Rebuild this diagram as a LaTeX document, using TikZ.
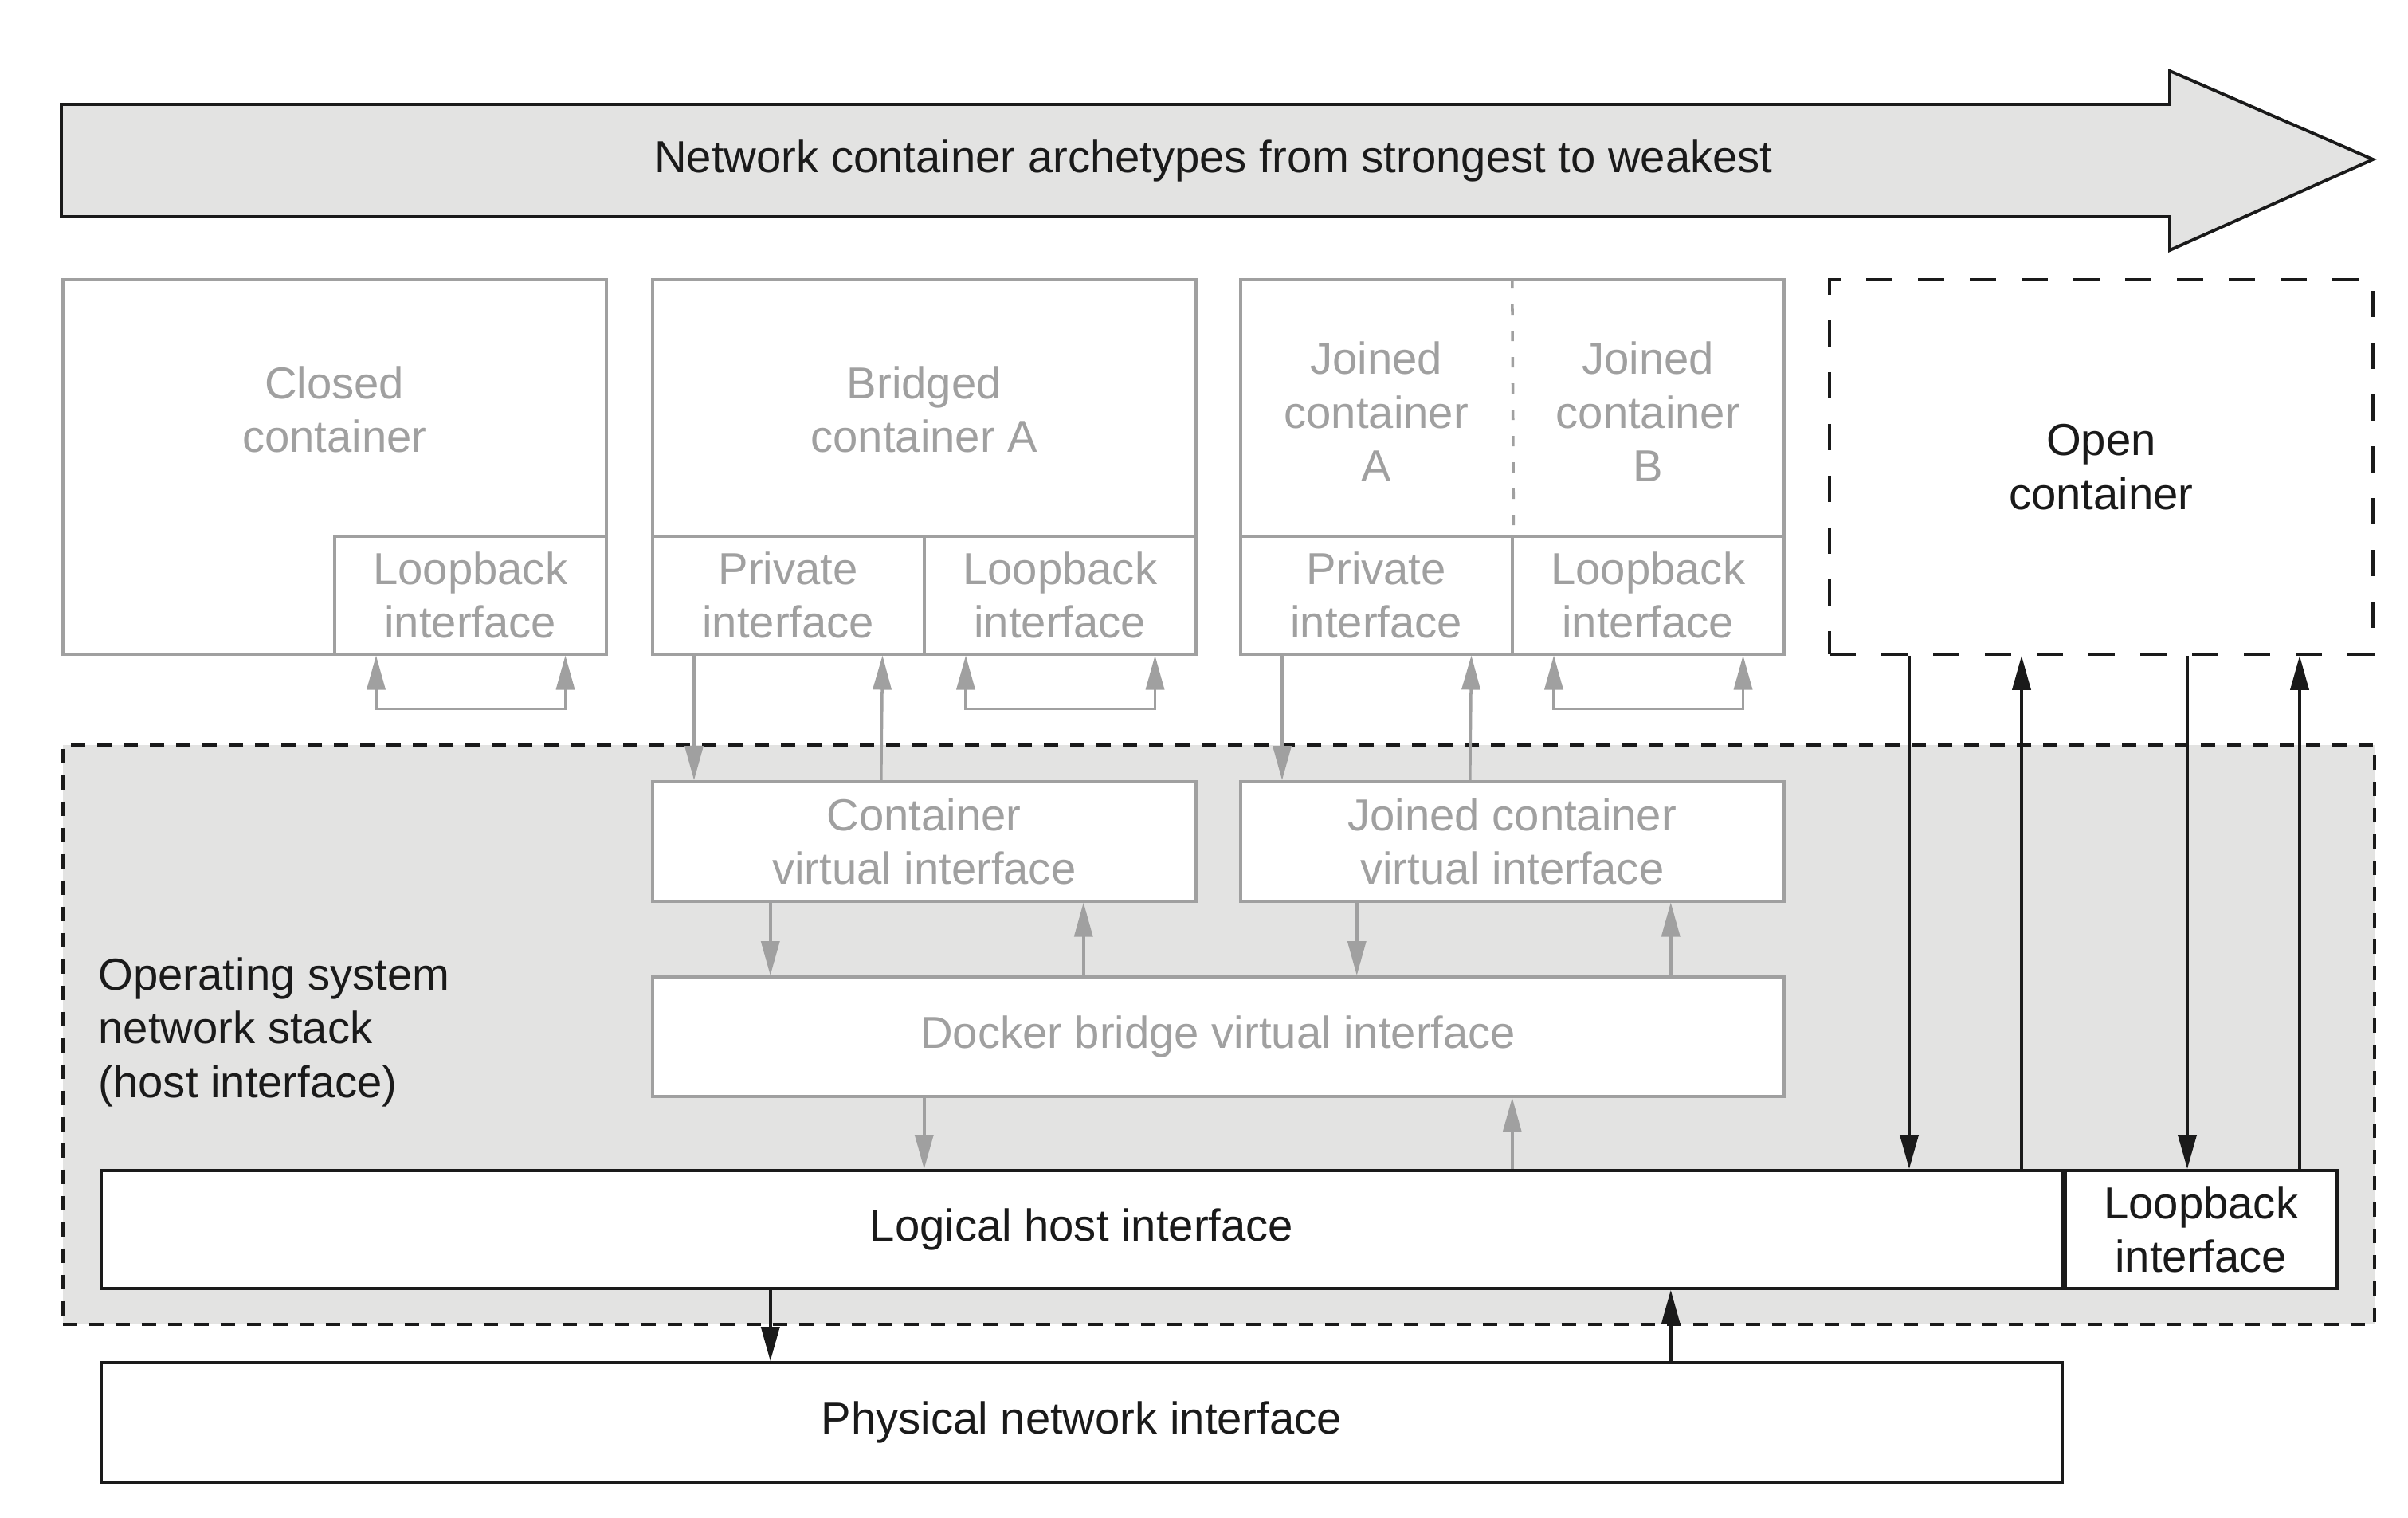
\documentclass[tikz,border=0pt]{standalone}
\usepackage{fontspec}
\setmainfont{Liberation Sans}
\usepackage{tikz}
\usepackage{color}
\usetikzlibrary{arrows.meta}
\definecolor{lgray}{RGB}{160,160,160}
\definecolor{dblack}{RGB}{26,26,26}
\definecolor{lfill}{RGB}{227,227,226}
\tikzstyle{gbox} = [rectangle, draw=lgray, line width=1pt, fill=white, text=lgray, align=center, inner sep=0pt]
\tikzstyle{bbox} = [rectangle, draw=dblack, line width=1.1pt, fill=white, text=dblack, align=center, inner sep=0pt]
\tikzstyle{cont} = [minimum width=6.82cm, minimum height=4.70cm, anchor=north west]
\tikzstyle{iface} = [minimum width=3.41cm, minimum height=1.48cm]
\tikzstyle{gtext} = [text=lgray, align=center, inner sep=0pt]
\tikzstyle{garrow} = [draw=lgray, line width=1pt, ->, >={Triangle[length=4.3mm,width=2.3mm]}]
\tikzstyle{barrow} = [draw=dblack, line width=1.1pt, ->, >={Triangle[length=4.3mm,width=2.3mm]}]

\begin{document}
\begin{tikzpicture}[font=\fontsize{16}{19.2}\selectfont]
          \useasboundingbox (0,0) rectangle (30.22,-19.04);
          % archetype arrow
          \draw [line width=1.1pt, draw=dblack, fill=lfill] (0.77,-1.31) -- (27.23,-1.31) -- (27.23,-0.89) -- (29.78,-2.00) -- (27.23,-3.14) -- (27.23,-2.72) -- (0.77,-2.72) -- cycle;
          \node (title) [text=dblack] at (15.23,-2.02) {Network container archetypes from strongest to weakest};
          % host network stack
          \node (os) [rectangle, draw=dblack, fill=lfill, line width=1.1pt, dash pattern=on 0.18cm off 0.15cm, minimum width=29.01cm, minimum height=7.27cm, anchor=north west] at (0.77,-9.33) {};
          \node (ostext) [text=dblack, align=left, anchor=west, inner sep=0pt] at (1.23,-12.95) {Operating system\\network stack\\(host interface)};
          % containers
          \node (closed) [gbox, cont] at (0.77,-3.49) {};
          \node (clo) [gbox, iface, anchor=south east] at (closed.south east) {Loopback\\interface};
          \node (closedname) [gtext, yshift=-1.65cm] at (closed.north) {Closed\\container};
          \node (bridged) [gbox, cont] at (8.17,-3.49) {};
          \node (bpriv) [gbox, iface, anchor=south west] at (bridged.south west) {Private\\interface};
          \node (blo) [gbox, iface, anchor=south east] at (bridged.south east) {Loopback\\interface};
          \node (bridgedname) [gtext, yshift=-1.65cm] at (bridged.north) {Bridged\\container A};
          \node (joined) [gbox, cont] at (15.55,-3.49) {};
          \node (jpriv) [gbox, iface, anchor=south west] at (joined.south west) {Private\\interface};
          \node (jlo) [gbox, iface, anchor=south east] at (joined.south east) {Loopback\\interface};
          \node (janame) [gtext, yshift=1.54cm] at (jpriv.north) {Joined\\container\\A};
          \node (jbname) [gtext, yshift=1.54cm] at (jlo.north) {Joined\\container\\B};
          \draw [draw=lgray, line width=1pt, dash pattern=on 0.13cm off 0.2cm] (joined.north) -- (jpriv.north east);
          \node (open) [bbox, cont, fill=none, dash pattern=on 0.33cm off 0.32cm] at (22.94,-3.49) {Open\\container};
          % virtual interfaces
          \node (cvirt) [gbox, minimum width=6.82cm, minimum height=1.50cm, anchor=north west] at (8.17,-9.79) {Container\\virtual interface};
          \node (jvirt) [gbox, minimum width=6.82cm, minimum height=1.50cm, anchor=north west] at (15.55,-9.79) {Joined container\\virtual interface};
          \node (docker) [gbox, minimum width=14.20cm, minimum height=1.50cm, anchor=north west] at (8.17,-12.24) {Docker bridge virtual interface};
          \node (logical) [bbox, minimum width=24.61cm, minimum height=1.48cm, anchor=north west] at (1.25,-14.67) {Logical host interface};
          \node (hostlo) [bbox, iface, anchor=north west] at (logical.north east) {Loopback\\interface};
          \node (physical) [bbox, minimum width=24.61cm, minimum height=1.50cm, anchor=north west] at (1.25,-17.08) {Physical network interface};
          % loopbacks
          \draw [garrow, <->] ([xshift=0.54cm]clo.south west) -- ++(0,-0.67) -| ([xshift=-0.53cm]clo.south east);
          \draw [garrow, <->] ([xshift=0.54cm]blo.south west) -- ++(0,-0.67) -| ([xshift=-0.53cm]blo.south east);
          \draw [garrow, <->] ([xshift=0.54cm]jlo.south west) -- ++(0,-0.67) -| ([xshift=-0.53cm]jlo.south east);
          % private to virtual
          \draw [garrow] ([xshift=0.54cm]bpriv.south west) -- ([xshift=0.54cm]cvirt.north west);
          \draw [garrow] ([xshift=-0.54cm]cvirt.north) -- ([xshift=-0.54cm]bpriv.south east);
          \draw [garrow] ([xshift=0.54cm]jpriv.south west) -- ([xshift=0.54cm]jvirt.north west);
          \draw [garrow] ([xshift=-0.53cm]jvirt.north) -- ([xshift=-0.53cm]jpriv.south east);
          % virtual to bridge to host
          \coordinate (cdown) at ([xshift=-1.93cm]cvirt.south);
          \coordinate (cup) at ([xshift=2.0cm]cvirt.south);
          \coordinate (jdown) at ([xshift=-1.95cm]jvirt.south);
          \coordinate (jup) at ([xshift=1.99cm]jvirt.south);
          \draw [garrow] (cdown) -- (cdown |- docker.north);
          \draw [garrow] (cup |- docker.north) -- (cup);
          \draw [garrow] (jdown) -- (jdown |- docker.north);
          \draw [garrow] (jup |- docker.north) -- (jup);
          \draw [garrow] (docker.south -| cvirt.south) -- (logical.north -| cvirt.south);
          \draw [garrow] (logical.north -| jvirt.south) -- (docker.south -| jvirt.south);
          \draw [barrow] (logical.south -| cdown) -- (physical.north -| cdown);
          \draw [barrow] (physical.north -| jup) -- (logical.south -| jup);
          % open container
          \coordinate (o1) at ([xshift=1.02cm]open.south west);
          \coordinate (o2) at ([xshift=2.43cm]open.south west);
          \coordinate (o3) at ([xshift=4.51cm]open.south west);
          \coordinate (o4) at ([xshift=5.92cm]open.south west);
          \draw [barrow] (o1) -- (o1 |- logical.north);
          \draw [barrow] (o2 |- logical.north) -- (o2);
          \draw [barrow] (o3) -- (o3 |- hostlo.north);
          \draw [barrow] (o4 |- hostlo.north) -- (o4);
        \end{tikzpicture}
\end{document}
